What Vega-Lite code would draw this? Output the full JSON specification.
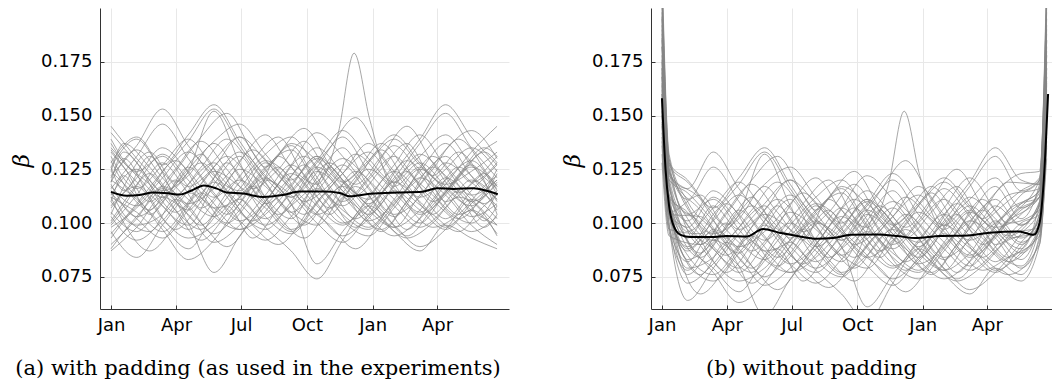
{
"$schema": "https://vega.github.io/schema/vega-lite/v6.json",
"padding": {"left": 10, "top": 8, "right": 0, "bottom": 0},
"bounds": "flush",
"spacing": 142,
"config": {
  "view": {"stroke": null},
  "axis": {"labelFont": "DejaVu Sans", "labelFontSize": 18, "labelColor": "#000", "domainColor": "#333", "domainWidth": 1, "tickColor": "#333", "tickSize": -4, "gridColor": "#e8e8e8", "gridWidth": 1}
},
"datasets": {
"a": [
{"s":1,"x":0,"y":0.113},{"s":1,"x":36,"y":0.125},{"s":1,"x":72,"y":0.108},{"s":1,"x":108,"y":0.099},{"s":1,"x":144,"y":0.118},{"s":1,"x":180,"y":0.131},{"s":1,"x":216,"y":0.112},{"s":1,"x":252,"y":0.102},{"s":1,"x":288,"y":0.121},{"s":1,"x":324,"y":0.135},{"s":1,"x":360,"y":0.117},{"s":1,"x":396,"y":0.104},{"s":1,"x":432,"y":0.112},{"s":1,"x":468,"y":0.128},{"s":1,"x":504,"y":0.119},{"s":1,"x":540,"y":0.108},
{"s":2,"x":0,"y":0.098},{"s":2,"x":36,"y":0.107},{"s":2,"x":72,"y":0.121},{"s":2,"x":108,"y":0.133},{"s":2,"x":144,"y":0.120},{"s":2,"x":180,"y":0.105},{"s":2,"x":216,"y":0.097},{"s":2,"x":252,"y":0.110},{"s":2,"x":288,"y":0.126},{"s":2,"x":324,"y":0.115},{"s":2,"x":360,"y":0.101},{"s":2,"x":396,"y":0.109},{"s":2,"x":432,"y":0.124},{"s":2,"x":468,"y":0.137},{"s":2,"x":504,"y":0.122},{"s":2,"x":540,"y":0.111},
{"s":3,"x":0,"y":0.128},{"s":3,"x":36,"y":0.140},{"s":3,"x":72,"y":0.124},{"s":3,"x":108,"y":0.111},{"s":3,"x":144,"y":0.103},{"s":3,"x":180,"y":0.116},{"s":3,"x":216,"y":0.129},{"s":3,"x":252,"y":0.121},{"s":3,"x":288,"y":0.108},{"s":3,"x":324,"y":0.099},{"s":3,"x":360,"y":0.112},{"s":3,"x":396,"y":0.127},{"s":3,"x":432,"y":0.141},{"s":3,"x":468,"y":0.126},{"s":3,"x":504,"y":0.113},{"s":3,"x":540,"y":0.120},
{"s":4,"x":0,"y":0.105},{"s":4,"x":36,"y":0.096},{"s":4,"x":72,"y":0.110},{"s":4,"x":108,"y":0.124},{"s":4,"x":144,"y":0.152},{"s":4,"x":180,"y":0.128},{"s":4,"x":216,"y":0.109},{"s":4,"x":252,"y":0.118},{"s":4,"x":288,"y":0.131},{"s":4,"x":324,"y":0.120},{"s":4,"x":360,"y":0.106},{"s":4,"x":396,"y":0.098},{"s":4,"x":432,"y":0.113},{"s":4,"x":468,"y":0.125},{"s":4,"x":504,"y":0.135},{"s":4,"x":540,"y":0.124},
{"s":5,"x":0,"y":0.120},{"s":5,"x":36,"y":0.111},{"s":5,"x":72,"y":0.099},{"s":5,"x":108,"y":0.088},{"s":5,"x":144,"y":0.104},{"s":5,"x":180,"y":0.119},{"s":5,"x":216,"y":0.132},{"s":5,"x":252,"y":0.140},{"s":5,"x":288,"y":0.125},{"s":5,"x":324,"y":0.110},{"s":5,"x":360,"y":0.121},{"s":5,"x":396,"y":0.136},{"s":5,"x":432,"y":0.123},{"s":5,"x":468,"y":0.107},{"s":5,"x":504,"y":0.100},{"s":5,"x":540,"y":0.114},
{"s":6,"x":0,"y":0.142},{"s":6,"x":36,"y":0.128},{"s":6,"x":72,"y":0.115},{"s":6,"x":108,"y":0.122},{"s":6,"x":144,"y":0.137},{"s":6,"x":180,"y":0.121},{"s":6,"x":216,"y":0.103},{"s":6,"x":252,"y":0.095},{"s":6,"x":288,"y":0.109},{"s":6,"x":324,"y":0.123},{"s":6,"x":360,"y":0.133},{"s":6,"x":396,"y":0.118},{"s":6,"x":432,"y":0.104},{"s":6,"x":468,"y":0.113},{"s":6,"x":504,"y":0.129},{"s":6,"x":540,"y":0.138},
{"s":7,"x":0,"y":0.090},{"s":7,"x":36,"y":0.102},{"s":7,"x":72,"y":0.117},{"s":7,"x":108,"y":0.108},{"s":7,"x":144,"y":0.095},{"s":7,"x":180,"y":0.106},{"s":7,"x":216,"y":0.120},{"s":7,"x":252,"y":0.113},{"s":7,"x":288,"y":0.100},{"s":7,"x":324,"y":0.091},{"s":7,"x":360,"y":0.104},{"s":7,"x":396,"y":0.119},{"s":7,"x":432,"y":0.110},{"s":7,"x":468,"y":0.098},{"s":7,"x":504,"y":0.106},{"s":7,"x":540,"y":0.095},
{"s":8,"x":0,"y":0.116},{"s":8,"x":36,"y":0.131},{"s":8,"x":72,"y":0.146},{"s":8,"x":108,"y":0.130},{"s":8,"x":144,"y":0.114},{"s":8,"x":180,"y":0.101},{"s":8,"x":216,"y":0.110},{"s":8,"x":252,"y":0.127},{"s":8,"x":288,"y":0.142},{"s":8,"x":324,"y":0.131},{"s":8,"x":360,"y":0.116},{"s":8,"x":396,"y":0.103},{"s":8,"x":432,"y":0.118},{"s":8,"x":468,"y":0.134},{"s":8,"x":504,"y":0.143},{"s":8,"x":540,"y":0.130},
{"s":9,"x":0,"y":0.110},{"s":9,"x":36,"y":0.099},{"s":9,"x":72,"y":0.104},{"s":9,"x":108,"y":0.118},{"s":9,"x":144,"y":0.128},{"s":9,"x":180,"y":0.113},{"s":9,"x":216,"y":0.124},{"s":9,"x":252,"y":0.136},{"s":9,"x":288,"y":0.119},{"s":9,"x":324,"y":0.104},{"s":9,"x":360,"y":0.097},{"s":9,"x":396,"y":0.111},{"s":9,"x":432,"y":0.125},{"s":9,"x":468,"y":0.115},{"s":9,"x":504,"y":0.103},{"s":9,"x":540,"y":0.109},
{"s":10,"x":0,"y":0.133},{"s":10,"x":36,"y":0.119},{"s":10,"x":72,"y":0.108},{"s":10,"x":108,"y":0.097},{"s":10,"x":144,"y":0.110},{"s":10,"x":180,"y":0.125},{"s":10,"x":216,"y":0.117},{"s":10,"x":252,"y":0.105},{"s":10,"x":288,"y":0.099},{"s":10,"x":324,"y":0.114},{"s":10,"x":360,"y":0.128},{"s":10,"x":396,"y":0.139},{"s":10,"x":432,"y":0.127},{"s":10,"x":468,"y":0.118},{"s":10,"x":504,"y":0.124},{"s":10,"x":540,"y":0.133},
{"s":11,"x":0,"y":0.101},{"s":11,"x":36,"y":0.118},{"s":11,"x":72,"y":0.132},{"s":11,"x":108,"y":0.120},{"s":11,"x":144,"y":0.107},{"s":11,"x":180,"y":0.112},{"s":11,"x":216,"y":0.126},{"s":11,"x":252,"y":0.134},{"s":11,"x":288,"y":0.118},{"s":11,"x":324,"y":0.108},{"s":11,"x":360,"y":0.120},{"s":11,"x":396,"y":0.131},{"s":11,"x":432,"y":0.117},{"s":11,"x":468,"y":0.105},{"s":11,"x":504,"y":0.096},{"s":11,"x":540,"y":0.103},
{"s":12,"x":0,"y":0.124},{"s":12,"x":36,"y":0.112},{"s":12,"x":72,"y":0.097},{"s":12,"x":108,"y":0.083},{"s":12,"x":144,"y":0.092},{"s":12,"x":180,"y":0.109},{"s":12,"x":216,"y":0.121},{"s":12,"x":252,"y":0.112},{"s":12,"x":288,"y":0.126},{"s":12,"x":324,"y":0.140},{"s":12,"x":360,"y":0.124},{"s":12,"x":396,"y":0.111},{"s":12,"x":432,"y":0.100},{"s":12,"x":468,"y":0.114},{"s":12,"x":504,"y":0.126},{"s":12,"x":540,"y":0.117},
{"s":13,"x":0,"y":0.095},{"s":13,"x":36,"y":0.109},{"s":13,"x":72,"y":0.124},{"s":13,"x":108,"y":0.138},{"s":13,"x":144,"y":0.153},{"s":13,"x":180,"y":0.136},{"s":13,"x":216,"y":0.119},{"s":13,"x":252,"y":0.105},{"s":13,"x":288,"y":0.115},{"s":13,"x":324,"y":0.127},{"s":13,"x":360,"y":0.113},{"s":13,"x":396,"y":0.098},{"s":13,"x":432,"y":0.106},{"s":13,"x":468,"y":0.121},{"s":13,"x":504,"y":0.111},{"s":13,"x":540,"y":0.099},
{"s":14,"x":0,"y":0.137},{"s":14,"x":36,"y":0.124},{"s":14,"x":72,"y":0.131},{"s":14,"x":108,"y":0.117},{"s":14,"x":144,"y":0.103},{"s":14,"x":180,"y":0.097},{"s":14,"x":216,"y":0.108},{"s":14,"x":252,"y":0.122},{"s":14,"x":288,"y":0.135},{"s":14,"x":324,"y":0.123},{"s":14,"x":360,"y":0.109},{"s":14,"x":396,"y":0.121},{"s":14,"x":432,"y":0.137},{"s":14,"x":468,"y":0.151},{"s":14,"x":504,"y":0.135},{"s":14,"x":540,"y":0.121},
{"s":15,"x":0,"y":0.114},{"s":15,"x":36,"y":0.102},{"s":15,"x":72,"y":0.093},{"s":15,"x":108,"y":0.106},{"s":15,"x":144,"y":0.121},{"s":15,"x":180,"y":0.133},{"s":15,"x":216,"y":0.122},{"s":15,"x":252,"y":0.109},{"s":15,"x":288,"y":0.081},{"s":15,"x":324,"y":0.096},{"s":15,"x":360,"y":0.111},{"s":15,"x":396,"y":0.124},{"s":15,"x":432,"y":0.114},{"s":15,"x":468,"y":0.102},{"s":15,"x":504,"y":0.115},{"s":15,"x":540,"y":0.127},
{"s":16,"x":0,"y":0.119},{"s":16,"x":36,"y":0.134},{"s":16,"x":72,"y":0.121},{"s":16,"x":108,"y":0.109},{"s":16,"x":144,"y":0.116},{"s":16,"x":180,"y":0.129},{"s":16,"x":216,"y":0.141},{"s":16,"x":252,"y":0.126},{"s":16,"x":288,"y":0.118},{"s":16,"x":318,"y":0.142},{"s":16,"x":340,"y":0.179},{"s":16,"x":362,"y":0.148},{"s":16,"x":396,"y":0.117},{"s":16,"x":432,"y":0.126},{"s":16,"x":468,"y":0.110},{"s":16,"x":504,"y":0.118},{"s":16,"x":540,"y":0.131},
{"s":17,"x":0,"y":0.087},{"s":17,"x":36,"y":0.098},{"s":17,"x":72,"y":0.112},{"s":17,"x":108,"y":0.104},{"s":17,"x":144,"y":0.091},{"s":17,"x":180,"y":0.099},{"s":17,"x":216,"y":0.113},{"s":17,"x":252,"y":0.127},{"s":17,"x":288,"y":0.115},{"s":17,"x":324,"y":0.101},{"s":17,"x":360,"y":0.094},{"s":17,"x":396,"y":0.107},{"s":17,"x":432,"y":0.121},{"s":17,"x":468,"y":0.113},{"s":17,"x":504,"y":0.099},{"s":17,"x":540,"y":0.090},
{"s":18,"x":0,"y":0.126},{"s":18,"x":36,"y":0.139},{"s":18,"x":72,"y":0.127},{"s":18,"x":108,"y":0.141},{"s":18,"x":144,"y":0.155},{"s":18,"x":180,"y":0.138},{"s":18,"x":216,"y":0.121},{"s":18,"x":252,"y":0.112},{"s":18,"x":288,"y":0.124},{"s":18,"x":324,"y":0.115},{"s":18,"x":360,"y":0.104},{"s":18,"x":396,"y":0.117},{"s":18,"x":432,"y":0.132},{"s":18,"x":468,"y":0.122},{"s":18,"x":504,"y":0.110},{"s":18,"x":540,"y":0.118},
{"s":19,"x":0,"y":0.108},{"s":19,"x":36,"y":0.117},{"s":19,"x":72,"y":0.102},{"s":19,"x":108,"y":0.093},{"s":19,"x":144,"y":0.099},{"s":19,"x":180,"y":0.111},{"s":19,"x":216,"y":0.098},{"s":19,"x":252,"y":0.087},{"s":19,"x":288,"y":0.074},{"s":19,"x":324,"y":0.092},{"s":19,"x":360,"y":0.108},{"s":19,"x":396,"y":0.099},{"s":19,"x":432,"y":0.089},{"s":19,"x":468,"y":0.097},{"s":19,"x":504,"y":0.111},{"s":19,"x":540,"y":0.102},
{"s":20,"x":0,"y":0.131},{"s":20,"x":36,"y":0.116},{"s":20,"x":72,"y":0.127},{"s":20,"x":108,"y":0.139},{"s":20,"x":144,"y":0.125},{"s":20,"x":180,"y":0.112},{"s":20,"x":216,"y":0.102},{"s":20,"x":252,"y":0.115},{"s":20,"x":288,"y":0.129},{"s":20,"x":324,"y":0.143},{"s":20,"x":360,"y":0.130},{"s":20,"x":396,"y":0.119},{"s":20,"x":432,"y":0.128},{"s":20,"x":468,"y":0.117},{"s":20,"x":504,"y":0.106},{"s":20,"x":540,"y":0.099},
{"s":21,"x":0,"y":0.099},{"s":21,"x":36,"y":0.113},{"s":21,"x":72,"y":0.128},{"s":21,"x":108,"y":0.117},{"s":21,"x":144,"y":0.126},{"s":21,"x":180,"y":0.140},{"s":21,"x":216,"y":0.129},{"s":21,"x":252,"y":0.116},{"s":21,"x":288,"y":0.104},{"s":21,"x":324,"y":0.112},{"s":21,"x":360,"y":0.125},{"s":21,"x":396,"y":0.116},{"s":21,"x":432,"y":0.105},{"s":21,"x":468,"y":0.118},{"s":21,"x":504,"y":0.133},{"s":21,"x":540,"y":0.145},
{"s":22,"x":0,"y":0.117},{"s":22,"x":36,"y":0.108},{"s":22,"x":72,"y":0.116},{"s":22,"x":108,"y":0.100},{"s":22,"x":144,"y":0.077},{"s":22,"x":180,"y":0.094},{"s":22,"x":216,"y":0.110},{"s":22,"x":252,"y":0.123},{"s":22,"x":288,"y":0.112},{"s":22,"x":324,"y":0.100},{"s":22,"x":360,"y":0.108},{"s":22,"x":396,"y":0.120},{"s":22,"x":432,"y":0.131},{"s":22,"x":468,"y":0.141},{"s":22,"x":504,"y":0.127},{"s":22,"x":540,"y":0.116},
{"s":23,"x":0,"y":0.145},{"s":23,"x":36,"y":0.130},{"s":23,"x":72,"y":0.117},{"s":23,"x":108,"y":0.106},{"s":23,"x":144,"y":0.119},{"s":23,"x":180,"y":0.109},{"s":23,"x":216,"y":0.099},{"s":23,"x":252,"y":0.108},{"s":23,"x":288,"y":0.119},{"s":23,"x":324,"y":0.130},{"s":23,"x":360,"y":0.120},{"s":23,"x":396,"y":0.108},{"s":23,"x":432,"y":0.098},{"s":23,"x":468,"y":0.107},{"s":23,"x":504,"y":0.120},{"s":23,"x":540,"y":0.111},
{"s":24,"x":0,"y":0.103},{"s":24,"x":36,"y":0.092},{"s":24,"x":72,"y":0.101},{"s":24,"x":108,"y":0.114},{"s":24,"x":144,"y":0.107},{"s":24,"x":180,"y":0.097},{"s":24,"x":216,"y":0.104},{"s":24,"x":252,"y":0.117},{"s":24,"x":288,"y":0.131},{"s":24,"x":324,"y":0.119},{"s":24,"x":360,"y":0.129},{"s":24,"x":396,"y":0.141},{"s":24,"x":432,"y":0.128},{"s":24,"x":468,"y":0.116},{"s":24,"x":504,"y":0.108},{"s":24,"x":540,"y":0.123},
{"s":25,"x":0,"y":0.122},{"s":25,"x":36,"y":0.136},{"s":25,"x":72,"y":0.153},{"s":25,"x":108,"y":0.136},{"s":25,"x":144,"y":0.122},{"s":25,"x":180,"y":0.115},{"s":25,"x":216,"y":0.128},{"s":25,"x":252,"y":0.117},{"s":25,"x":288,"y":0.105},{"s":25,"x":324,"y":0.094},{"s":25,"x":360,"y":0.103},{"s":25,"x":396,"y":0.115},{"s":25,"x":432,"y":0.106},{"s":25,"x":468,"y":0.097},{"s":25,"x":504,"y":0.109},{"s":25,"x":540,"y":0.120},
{"s":26,"x":0,"y":0.112},{"s":26,"x":36,"y":0.105},{"s":26,"x":72,"y":0.096},{"s":26,"x":108,"y":0.109},{"s":26,"x":144,"y":0.124},{"s":26,"x":180,"y":0.117},{"s":26,"x":216,"y":0.107},{"s":26,"x":252,"y":0.096},{"s":26,"x":288,"y":0.110},{"s":26,"x":324,"y":0.123},{"s":26,"x":360,"y":0.137},{"s":26,"x":396,"y":0.124},{"s":26,"x":432,"y":0.112},{"s":26,"x":468,"y":0.120},{"s":26,"x":504,"y":0.129},{"s":26,"x":540,"y":0.113},
{"s":27,"x":0,"y":0.096},{"s":27,"x":36,"y":0.084},{"s":27,"x":72,"y":0.099},{"s":27,"x":108,"y":0.115},{"s":27,"x":144,"y":0.129},{"s":27,"x":180,"y":0.140},{"s":27,"x":216,"y":0.126},{"s":27,"x":252,"y":0.137},{"s":27,"x":288,"y":0.129},{"s":27,"x":324,"y":0.117},{"s":27,"x":360,"y":0.103},{"s":27,"x":396,"y":0.094},{"s":27,"x":432,"y":0.102},{"s":27,"x":468,"y":0.115},{"s":27,"x":504,"y":0.127},{"s":27,"x":540,"y":0.104},
{"s":28,"x":0,"y":0.135},{"s":28,"x":36,"y":0.122},{"s":28,"x":72,"y":0.112},{"s":28,"x":108,"y":0.126},{"s":28,"x":144,"y":0.113},{"s":28,"x":180,"y":0.101},{"s":28,"x":216,"y":0.092},{"s":28,"x":252,"y":0.103},{"s":28,"x":288,"y":0.116},{"s":28,"x":324,"y":0.106},{"s":28,"x":360,"y":0.098},{"s":28,"x":396,"y":0.110},{"s":28,"x":432,"y":0.121},{"s":28,"x":468,"y":0.131},{"s":28,"x":504,"y":0.119},{"s":28,"x":540,"y":0.128},
{"s":29,"x":0,"y":0.107},{"s":29,"x":36,"y":0.121},{"s":29,"x":72,"y":0.135},{"s":29,"x":108,"y":0.124},{"s":29,"x":144,"y":0.112},{"s":29,"x":180,"y":0.120},{"s":29,"x":216,"y":0.109},{"s":29,"x":252,"y":0.097},{"s":29,"x":288,"y":0.105},{"s":29,"x":324,"y":0.117},{"s":29,"x":360,"y":0.108},{"s":29,"x":396,"y":0.096},{"s":29,"x":432,"y":0.087},{"s":29,"x":468,"y":0.099},{"s":29,"x":504,"y":0.093},{"s":29,"x":540,"y":0.088},
{"s":30,"x":0,"y":0.118},{"s":30,"x":36,"y":0.103},{"s":30,"x":72,"y":0.111},{"s":30,"x":108,"y":0.125},{"s":30,"x":144,"y":0.138},{"s":30,"x":180,"y":0.146},{"s":30,"x":216,"y":0.132},{"s":30,"x":252,"y":0.120},{"s":30,"x":288,"y":0.130},{"s":30,"x":324,"y":0.119},{"s":30,"x":360,"y":0.111},{"s":30,"x":396,"y":0.124},{"s":30,"x":432,"y":0.139},{"s":30,"x":468,"y":0.155},{"s":30,"x":504,"y":0.140},{"s":30,"x":540,"y":0.127},
{"s":31,"x":0,"y":0.110},{"s":31,"x":18,"y":0.122},{"s":31,"x":54,"y":0.104},{"s":31,"x":90,"y":0.118},{"s":31,"x":126,"y":0.132},{"s":31,"x":162,"y":0.115},{"s":31,"x":198,"y":0.101},{"s":31,"x":234,"y":0.113},{"s":31,"x":270,"y":0.127},{"s":31,"x":306,"y":0.112},{"s":31,"x":342,"y":0.098},{"s":31,"x":378,"y":0.109},{"s":31,"x":414,"y":0.124},{"s":31,"x":450,"y":0.110},{"s":31,"x":486,"y":0.121},{"s":31,"x":522,"y":0.133},{"s":31,"x":540,"y":0.128},
{"s":32,"x":0,"y":0.126},{"s":32,"x":18,"y":0.115},{"s":32,"x":54,"y":0.131},{"s":32,"x":90,"y":0.112},{"s":32,"x":126,"y":0.099},{"s":32,"x":162,"y":0.114},{"s":32,"x":198,"y":0.129},{"s":32,"x":234,"y":0.140},{"s":32,"x":270,"y":0.122},{"s":32,"x":306,"y":0.107},{"s":32,"x":342,"y":0.119},{"s":32,"x":378,"y":0.134},{"s":32,"x":414,"y":0.118},{"s":32,"x":450,"y":0.104},{"s":32,"x":486,"y":0.115},{"s":32,"x":522,"y":0.101},{"s":32,"x":540,"y":0.108},
{"s":33,"x":0,"y":0.100},{"s":33,"x":18,"y":0.108},{"s":33,"x":54,"y":0.123},{"s":33,"x":90,"y":0.106},{"s":33,"x":126,"y":0.092},{"s":33,"x":162,"y":0.104},{"s":33,"x":198,"y":0.117},{"s":33,"x":234,"y":0.103},{"s":33,"x":270,"y":0.093},{"s":33,"x":306,"y":0.108},{"s":33,"x":342,"y":0.124},{"s":33,"x":378,"y":0.112},{"s":33,"x":414,"y":0.097},{"s":33,"x":450,"y":0.111},{"s":33,"x":486,"y":0.126},{"s":33,"x":522,"y":0.114},{"s":33,"x":540,"y":0.106},
{"s":34,"x":0,"y":0.121},{"s":34,"x":18,"y":0.130},{"s":34,"x":54,"y":0.112},{"s":34,"x":90,"y":0.097},{"s":34,"x":126,"y":0.110},{"s":34,"x":162,"y":0.128},{"s":34,"x":198,"y":0.116},{"s":34,"x":234,"y":0.125},{"s":34,"x":270,"y":0.138},{"s":34,"x":306,"y":0.121},{"s":34,"x":342,"y":0.106},{"s":34,"x":378,"y":0.097},{"s":34,"x":414,"y":0.110},{"s":34,"x":450,"y":0.126},{"s":34,"x":486,"y":0.113},{"s":34,"x":522,"y":0.098},{"s":34,"x":540,"y":0.104},
{"s":35,"x":0,"y":0.093},{"s":35,"x":18,"y":0.101},{"s":35,"x":54,"y":0.115},{"s":35,"x":90,"y":0.129},{"s":35,"x":126,"y":0.114},{"s":35,"x":162,"y":0.100},{"s":35,"x":198,"y":0.112},{"s":35,"x":234,"y":0.126},{"s":35,"x":270,"y":0.110},{"s":35,"x":306,"y":0.118},{"s":35,"x":342,"y":0.132},{"s":35,"x":378,"y":0.121},{"s":35,"x":414,"y":0.108},{"s":35,"x":450,"y":0.098},{"s":35,"x":486,"y":0.104},{"s":35,"x":522,"y":0.117},{"s":35,"x":540,"y":0.122},
{"s":36,"x":0,"y":0.134},{"s":36,"x":18,"y":0.126},{"s":36,"x":54,"y":0.110},{"s":36,"x":90,"y":0.124},{"s":36,"x":126,"y":0.140},{"s":36,"x":162,"y":0.151},{"s":36,"x":198,"y":0.133},{"s":36,"x":234,"y":0.117},{"s":36,"x":270,"y":0.104},{"s":36,"x":306,"y":0.115},{"s":36,"x":342,"y":0.108},{"s":36,"x":378,"y":0.096},{"s":36,"x":414,"y":0.110},{"s":36,"x":450,"y":0.125},{"s":36,"x":486,"y":0.139},{"s":36,"x":522,"y":0.125},{"s":36,"x":540,"y":0.115},
{"s":37,"x":0,"y":0.115},{"s":37,"x":18,"y":0.104},{"s":37,"x":54,"y":0.096},{"s":37,"x":90,"y":0.111},{"s":37,"x":126,"y":0.100},{"s":37,"x":162,"y":0.089},{"s":37,"x":198,"y":0.102},{"s":37,"x":234,"y":0.118},{"s":37,"x":270,"y":0.131},{"s":37,"x":306,"y":0.117},{"s":37,"x":342,"y":0.102},{"s":37,"x":378,"y":0.114},{"s":37,"x":414,"y":0.129},{"s":37,"x":450,"y":0.117},{"s":37,"x":486,"y":0.104},{"s":37,"x":522,"y":0.112},{"s":37,"x":540,"y":0.119},
{"s":38,"x":0,"y":0.104},{"s":38,"x":18,"y":0.117},{"s":38,"x":54,"y":0.133},{"s":38,"x":90,"y":0.119},{"s":38,"x":126,"y":0.128},{"s":38,"x":162,"y":0.114},{"s":38,"x":198,"y":0.099},{"s":38,"x":234,"y":0.090},{"s":38,"x":270,"y":0.103},{"s":38,"x":306,"y":0.126},{"s":38,"x":342,"y":0.113},{"s":38,"x":378,"y":0.125},{"s":38,"x":414,"y":0.137},{"s":38,"x":450,"y":0.122},{"s":38,"x":486,"y":0.133},{"s":38,"x":522,"y":0.119},{"s":38,"x":540,"y":0.110},
{"s":39,"x":0,"y":0.129},{"s":39,"x":18,"y":0.118},{"s":39,"x":54,"y":0.106},{"s":39,"x":90,"y":0.120},{"s":39,"x":126,"y":0.107},{"s":39,"x":162,"y":0.119},{"s":39,"x":198,"y":0.134},{"s":39,"x":234,"y":0.122},{"s":39,"x":270,"y":0.109},{"s":39,"x":306,"y":0.099},{"s":39,"x":342,"y":0.088},{"s":39,"x":378,"y":0.101},{"s":39,"x":414,"y":0.116},{"s":39,"x":450,"y":0.131},{"s":39,"x":486,"y":0.120},{"s":39,"x":522,"y":0.109},{"s":39,"x":540,"y":0.115},
{"s":40,"x":0,"y":0.119},{"s":40,"x":18,"y":0.133},{"s":40,"x":54,"y":0.120},{"s":40,"x":90,"y":0.106},{"s":40,"x":126,"y":0.097},{"s":40,"x":162,"y":0.108},{"s":40,"x":198,"y":0.093},{"s":40,"x":234,"y":0.107},{"s":40,"x":270,"y":0.121},{"s":40,"x":306,"y":0.135},{"s":40,"x":342,"y":0.149},{"s":40,"x":378,"y":0.131},{"s":40,"x":414,"y":0.114},{"s":40,"x":450,"y":0.104},{"s":40,"x":486,"y":0.096},{"s":40,"x":522,"y":0.108},{"s":40,"x":540,"y":0.113},
{"s":41,"x":0,"y":0.088},{"s":41,"x":18,"y":0.096},{"s":41,"x":54,"y":0.110},{"s":41,"x":90,"y":0.125},{"s":41,"x":126,"y":0.138},{"s":41,"x":162,"y":0.125},{"s":41,"x":198,"y":0.112},{"s":41,"x":234,"y":0.131},{"s":41,"x":270,"y":0.118},{"s":41,"x":306,"y":0.104},{"s":41,"x":342,"y":0.117},{"s":41,"x":378,"y":0.106},{"s":41,"x":414,"y":0.094},{"s":41,"x":450,"y":0.107},{"s":41,"x":486,"y":0.122},{"s":41,"x":522,"y":0.135},{"s":41,"x":540,"y":0.131},
{"s":42,"x":0,"y":0.139},{"s":42,"x":18,"y":0.129},{"s":42,"x":54,"y":0.118},{"s":42,"x":90,"y":0.105},{"s":42,"x":126,"y":0.118},{"s":42,"x":162,"y":0.131},{"s":42,"x":198,"y":0.119},{"s":42,"x":234,"y":0.104},{"s":42,"x":270,"y":0.116},{"s":42,"x":306,"y":0.128},{"s":42,"x":342,"y":0.118},{"s":42,"x":378,"y":0.131},{"s":42,"x":414,"y":0.145},{"s":42,"x":450,"y":0.128},{"s":42,"x":486,"y":0.114},{"s":42,"x":522,"y":0.123},{"s":42,"x":540,"y":0.117},
{"s":43,"x":0,"y":0.112},{"s":43,"x":18,"y":0.100},{"s":43,"x":54,"y":0.087},{"s":43,"x":90,"y":0.099},{"s":43,"x":126,"y":0.114},{"s":43,"x":162,"y":0.104},{"s":43,"x":198,"y":0.118},{"s":43,"x":234,"y":0.132},{"s":43,"x":270,"y":0.144},{"s":43,"x":306,"y":0.127},{"s":43,"x":342,"y":0.114},{"s":43,"x":378,"y":0.102},{"s":43,"x":414,"y":0.093},{"s":43,"x":450,"y":0.100},{"s":43,"x":486,"y":0.112},{"s":43,"x":522,"y":0.104},{"s":43,"x":540,"y":0.094},
{"s":44,"x":0,"y":0.124},{"s":44,"x":18,"y":0.137},{"s":44,"x":54,"y":0.126},{"s":44,"x":90,"y":0.113},{"s":44,"x":126,"y":0.126},{"s":44,"x":162,"y":0.139},{"s":44,"x":198,"y":0.126},{"s":44,"x":234,"y":0.111},{"s":44,"x":270,"y":0.099},{"s":44,"x":306,"y":0.113},{"s":44,"x":342,"y":0.123},{"s":44,"x":378,"y":0.137},{"s":44,"x":414,"y":0.124},{"s":44,"x":450,"y":0.113},{"s":44,"x":486,"y":0.102},{"s":44,"x":522,"y":0.114},{"s":44,"x":540,"y":0.125}
],
"b": [
{"s":1,"x":0,"y":0.172},{"s":1,"x":10,"y":0.112},{"s":1,"x":36,"y":0.105},{"s":1,"x":72,"y":0.088},{"s":1,"x":108,"y":0.079},{"s":1,"x":144,"y":0.098},{"s":1,"x":180,"y":0.111},{"s":1,"x":216,"y":0.092},{"s":1,"x":252,"y":0.082},{"s":1,"x":288,"y":0.101},{"s":1,"x":324,"y":0.115},{"s":1,"x":360,"y":0.097},{"s":1,"x":396,"y":0.084},{"s":1,"x":432,"y":0.092},{"s":1,"x":468,"y":0.108},{"s":1,"x":504,"y":0.099},{"s":1,"x":530,"y":0.108},{"s":1,"x":540,"y":0.165},
{"s":2,"x":0,"y":0.150},{"s":2,"x":10,"y":0.105},{"s":2,"x":36,"y":0.087},{"s":2,"x":72,"y":0.101},{"s":2,"x":108,"y":0.113},{"s":2,"x":144,"y":0.100},{"s":2,"x":180,"y":0.085},{"s":2,"x":216,"y":0.077},{"s":2,"x":252,"y":0.090},{"s":2,"x":288,"y":0.106},{"s":2,"x":324,"y":0.095},{"s":2,"x":360,"y":0.081},{"s":2,"x":396,"y":0.089},{"s":2,"x":432,"y":0.104},{"s":2,"x":468,"y":0.117},{"s":2,"x":504,"y":0.102},{"s":2,"x":530,"y":0.118},{"s":2,"x":540,"y":0.190},
{"s":3,"x":0,"y":0.205},{"s":3,"x":10,"y":0.128},{"s":3,"x":36,"y":0.120},{"s":3,"x":72,"y":0.104},{"s":3,"x":108,"y":0.091},{"s":3,"x":144,"y":0.083},{"s":3,"x":180,"y":0.096},{"s":3,"x":216,"y":0.109},{"s":3,"x":252,"y":0.101},{"s":3,"x":288,"y":0.088},{"s":3,"x":324,"y":0.079},{"s":3,"x":360,"y":0.092},{"s":3,"x":396,"y":0.107},{"s":3,"x":432,"y":0.121},{"s":3,"x":468,"y":0.106},{"s":3,"x":504,"y":0.093},{"s":3,"x":530,"y":0.102},{"s":3,"x":540,"y":0.158},
{"s":4,"x":0,"y":0.160},{"s":4,"x":10,"y":0.104},{"s":4,"x":36,"y":0.076},{"s":4,"x":72,"y":0.090},{"s":4,"x":108,"y":0.104},{"s":4,"x":144,"y":0.132},{"s":4,"x":180,"y":0.108},{"s":4,"x":216,"y":0.089},{"s":4,"x":252,"y":0.098},{"s":4,"x":288,"y":0.111},{"s":4,"x":324,"y":0.100},{"s":4,"x":360,"y":0.086},{"s":4,"x":396,"y":0.078},{"s":4,"x":432,"y":0.093},{"s":4,"x":468,"y":0.105},{"s":4,"x":504,"y":0.115},{"s":4,"x":530,"y":0.121},{"s":4,"x":540,"y":0.210},
{"s":5,"x":0,"y":0.185},{"s":5,"x":10,"y":0.118},{"s":5,"x":36,"y":0.091},{"s":5,"x":72,"y":0.079},{"s":5,"x":108,"y":0.068},{"s":5,"x":144,"y":0.084},{"s":5,"x":180,"y":0.099},{"s":5,"x":216,"y":0.112},{"s":5,"x":252,"y":0.120},{"s":5,"x":288,"y":0.105},{"s":5,"x":324,"y":0.090},{"s":5,"x":360,"y":0.101},{"s":5,"x":396,"y":0.116},{"s":5,"x":432,"y":0.103},{"s":5,"x":468,"y":0.087},{"s":5,"x":504,"y":0.080},{"s":5,"x":530,"y":0.098},{"s":5,"x":540,"y":0.148},
{"s":6,"x":0,"y":0.215},{"s":6,"x":10,"y":0.130},{"s":6,"x":36,"y":0.108},{"s":6,"x":72,"y":0.095},{"s":6,"x":108,"y":0.102},{"s":6,"x":144,"y":0.117},{"s":6,"x":180,"y":0.101},{"s":6,"x":216,"y":0.083},{"s":6,"x":252,"y":0.075},{"s":6,"x":288,"y":0.089},{"s":6,"x":324,"y":0.103},{"s":6,"x":360,"y":0.113},{"s":6,"x":396,"y":0.098},{"s":6,"x":432,"y":0.084},{"s":6,"x":468,"y":0.093},{"s":6,"x":504,"y":0.109},{"s":6,"x":530,"y":0.115},{"s":6,"x":540,"y":0.182},
{"s":7,"x":0,"y":0.138},{"s":7,"x":10,"y":0.098},{"s":7,"x":36,"y":0.082},{"s":7,"x":72,"y":0.097},{"s":7,"x":108,"y":0.088},{"s":7,"x":144,"y":0.075},{"s":7,"x":180,"y":0.086},{"s":7,"x":216,"y":0.100},{"s":7,"x":252,"y":0.093},{"s":7,"x":288,"y":0.080},{"s":7,"x":324,"y":0.071},{"s":7,"x":360,"y":0.084},{"s":7,"x":396,"y":0.099},{"s":7,"x":432,"y":0.090},{"s":7,"x":468,"y":0.078},{"s":7,"x":504,"y":0.086},{"s":7,"x":530,"y":0.096},{"s":7,"x":540,"y":0.135},
{"s":8,"x":0,"y":0.190},{"s":8,"x":10,"y":0.125},{"s":8,"x":36,"y":0.111},{"s":8,"x":72,"y":0.126},{"s":8,"x":108,"y":0.110},{"s":8,"x":144,"y":0.094},{"s":8,"x":180,"y":0.081},{"s":8,"x":216,"y":0.090},{"s":8,"x":252,"y":0.107},{"s":8,"x":288,"y":0.122},{"s":8,"x":324,"y":0.111},{"s":8,"x":360,"y":0.096},{"s":8,"x":396,"y":0.083},{"s":8,"x":432,"y":0.098},{"s":8,"x":468,"y":0.114},{"s":8,"x":504,"y":0.123},{"s":8,"x":530,"y":0.124},{"s":8,"x":540,"y":0.205},
{"s":9,"x":0,"y":0.165},{"s":9,"x":10,"y":0.106},{"s":9,"x":36,"y":0.079},{"s":9,"x":72,"y":0.084},{"s":9,"x":108,"y":0.098},{"s":9,"x":144,"y":0.108},{"s":9,"x":180,"y":0.093},{"s":9,"x":216,"y":0.104},{"s":9,"x":252,"y":0.116},{"s":9,"x":288,"y":0.099},{"s":9,"x":324,"y":0.084},{"s":9,"x":360,"y":0.077},{"s":9,"x":396,"y":0.091},{"s":9,"x":432,"y":0.105},{"s":9,"x":468,"y":0.095},{"s":9,"x":504,"y":0.083},{"s":9,"x":530,"y":0.100},{"s":9,"x":540,"y":0.152},
{"s":10,"x":0,"y":0.198},{"s":10,"x":10,"y":0.121},{"s":10,"x":36,"y":0.099},{"s":10,"x":72,"y":0.088},{"s":10,"x":108,"y":0.077},{"s":10,"x":144,"y":0.090},{"s":10,"x":180,"y":0.105},{"s":10,"x":216,"y":0.097},{"s":10,"x":252,"y":0.085},{"s":10,"x":288,"y":0.079},{"s":10,"x":324,"y":0.094},{"s":10,"x":360,"y":0.108},{"s":10,"x":396,"y":0.119},{"s":10,"x":432,"y":0.107},{"s":10,"x":468,"y":0.098},{"s":10,"x":504,"y":0.104},{"s":10,"x":530,"y":0.116},{"s":10,"x":540,"y":0.178},
{"s":11,"x":0,"y":0.147},{"s":11,"x":10,"y":0.109},{"s":11,"x":36,"y":0.098},{"s":11,"x":72,"y":0.112},{"s":11,"x":108,"y":0.100},{"s":11,"x":144,"y":0.087},{"s":11,"x":180,"y":0.092},{"s":11,"x":216,"y":0.106},{"s":11,"x":252,"y":0.114},{"s":11,"x":288,"y":0.098},{"s":11,"x":324,"y":0.088},{"s":11,"x":360,"y":0.100},{"s":11,"x":396,"y":0.111},{"s":11,"x":432,"y":0.097},{"s":11,"x":468,"y":0.085},{"s":11,"x":504,"y":0.076},{"s":11,"x":530,"y":0.094},{"s":11,"x":540,"y":0.140},
{"s":12,"x":0,"y":0.178},{"s":12,"x":10,"y":0.111},{"s":12,"x":36,"y":0.092},{"s":12,"x":72,"y":0.077},{"s":12,"x":108,"y":0.063},{"s":12,"x":144,"y":0.072},{"s":12,"x":180,"y":0.089},{"s":12,"x":216,"y":0.101},{"s":12,"x":252,"y":0.092},{"s":12,"x":288,"y":0.106},{"s":12,"x":324,"y":0.120},{"s":12,"x":360,"y":0.104},{"s":12,"x":396,"y":0.091},{"s":12,"x":432,"y":0.080},{"s":12,"x":468,"y":0.094},{"s":12,"x":504,"y":0.106},{"s":12,"x":530,"y":0.112},{"s":12,"x":540,"y":0.170},
{"s":13,"x":0,"y":0.142},{"s":13,"x":10,"y":0.103},{"s":13,"x":36,"y":0.089},{"s":13,"x":72,"y":0.104},{"s":13,"x":108,"y":0.118},{"s":13,"x":144,"y":0.133},{"s":13,"x":180,"y":0.116},{"s":13,"x":216,"y":0.099},{"s":13,"x":252,"y":0.085},{"s":13,"x":288,"y":0.095},{"s":13,"x":324,"y":0.107},{"s":13,"x":360,"y":0.093},{"s":13,"x":396,"y":0.078},{"s":13,"x":432,"y":0.086},{"s":13,"x":468,"y":0.101},{"s":13,"x":504,"y":0.091},{"s":13,"x":530,"y":0.100},{"s":13,"x":540,"y":0.145},
{"s":14,"x":0,"y":0.210},{"s":14,"x":10,"y":0.126},{"s":14,"x":36,"y":0.104},{"s":14,"x":72,"y":0.111},{"s":14,"x":108,"y":0.097},{"s":14,"x":144,"y":0.083},{"s":14,"x":180,"y":0.077},{"s":14,"x":216,"y":0.088},{"s":14,"x":252,"y":0.102},{"s":14,"x":288,"y":0.115},{"s":14,"x":324,"y":0.103},{"s":14,"x":360,"y":0.089},{"s":14,"x":396,"y":0.101},{"s":14,"x":432,"y":0.117},{"s":14,"x":468,"y":0.131},{"s":14,"x":504,"y":0.115},{"s":14,"x":530,"y":0.120},{"s":14,"x":540,"y":0.198},
{"s":15,"x":0,"y":0.168},{"s":15,"x":10,"y":0.107},{"s":15,"x":36,"y":0.082},{"s":15,"x":72,"y":0.073},{"s":15,"x":108,"y":0.086},{"s":15,"x":144,"y":0.101},{"s":15,"x":180,"y":0.113},{"s":15,"x":216,"y":0.102},{"s":15,"x":252,"y":0.089},{"s":15,"x":288,"y":0.061},{"s":15,"x":324,"y":0.076},{"s":15,"x":360,"y":0.091},{"s":15,"x":396,"y":0.104},{"s":15,"x":432,"y":0.094},{"s":15,"x":468,"y":0.082},{"s":15,"x":504,"y":0.095},{"s":15,"x":530,"y":0.106},{"s":15,"x":540,"y":0.172},
{"s":16,"x":0,"y":0.176},{"s":16,"x":10,"y":0.120},{"s":16,"x":36,"y":0.114},{"s":16,"x":72,"y":0.101},{"s":16,"x":108,"y":0.089},{"s":16,"x":144,"y":0.096},{"s":16,"x":180,"y":0.109},{"s":16,"x":216,"y":0.121},{"s":16,"x":252,"y":0.106},{"s":16,"x":288,"y":0.098},{"s":16,"x":318,"y":0.118},{"s":16,"x":340,"y":0.152},{"s":16,"x":362,"y":0.122},{"s":16,"x":396,"y":0.097},{"s":16,"x":432,"y":0.106},{"s":16,"x":468,"y":0.090},{"s":16,"x":504,"y":0.098},{"s":16,"x":530,"y":0.108},{"s":16,"x":540,"y":0.175},
{"s":17,"x":0,"y":0.132},{"s":17,"x":10,"y":0.096},{"s":17,"x":36,"y":0.078},{"s":17,"x":72,"y":0.092},{"s":17,"x":108,"y":0.084},{"s":17,"x":144,"y":0.071},{"s":17,"x":180,"y":0.079},{"s":17,"x":216,"y":0.093},{"s":17,"x":252,"y":0.107},{"s":17,"x":288,"y":0.095},{"s":17,"x":324,"y":0.081},{"s":17,"x":360,"y":0.074},{"s":17,"x":396,"y":0.087},{"s":17,"x":432,"y":0.101},{"s":17,"x":468,"y":0.093},{"s":17,"x":504,"y":0.079},{"s":17,"x":530,"y":0.092},{"s":17,"x":540,"y":0.130},
{"s":18,"x":0,"y":0.195},{"s":18,"x":10,"y":0.127},{"s":18,"x":36,"y":0.119},{"s":18,"x":72,"y":0.107},{"s":18,"x":108,"y":0.121},{"s":18,"x":144,"y":0.135},{"s":18,"x":180,"y":0.118},{"s":18,"x":216,"y":0.101},{"s":18,"x":252,"y":0.092},{"s":18,"x":288,"y":0.104},{"s":18,"x":324,"y":0.095},{"s":18,"x":360,"y":0.084},{"s":18,"x":396,"y":0.097},{"s":18,"x":432,"y":0.112},{"s":18,"x":468,"y":0.102},{"s":18,"x":504,"y":0.090},{"s":18,"x":530,"y":0.104},{"s":18,"x":540,"y":0.162},
{"s":19,"x":0,"y":0.155},{"s":19,"x":10,"y":0.104},{"s":19,"x":36,"y":0.097},{"s":19,"x":72,"y":0.082},{"s":19,"x":108,"y":0.073},{"s":19,"x":144,"y":0.079},{"s":19,"x":180,"y":0.091},{"s":19,"x":216,"y":0.078},{"s":19,"x":252,"y":0.067},{"s":19,"x":288,"y":0.054},{"s":19,"x":324,"y":0.072},{"s":19,"x":360,"y":0.088},{"s":19,"x":396,"y":0.079},{"s":19,"x":432,"y":0.069},{"s":19,"x":468,"y":0.077},{"s":19,"x":504,"y":0.091},{"s":19,"x":530,"y":0.102},{"s":19,"x":540,"y":0.156},
{"s":20,"x":0,"y":0.188},{"s":20,"x":10,"y":0.118},{"s":20,"x":36,"y":0.096},{"s":20,"x":72,"y":0.107},{"s":20,"x":108,"y":0.119},{"s":20,"x":144,"y":0.105},{"s":20,"x":180,"y":0.092},{"s":20,"x":216,"y":0.082},{"s":20,"x":252,"y":0.095},{"s":20,"x":288,"y":0.109},{"s":20,"x":324,"y":0.123},{"s":20,"x":360,"y":0.110},{"s":20,"x":396,"y":0.099},{"s":20,"x":432,"y":0.108},{"s":20,"x":468,"y":0.097},{"s":20,"x":504,"y":0.086},{"s":20,"x":530,"y":0.097},{"s":20,"x":540,"y":0.150},
{"s":21,"x":0,"y":0.145},{"s":21,"x":10,"y":0.108},{"s":21,"x":36,"y":0.093},{"s":21,"x":72,"y":0.108},{"s":21,"x":108,"y":0.097},{"s":21,"x":144,"y":0.106},{"s":21,"x":180,"y":0.120},{"s":21,"x":216,"y":0.109},{"s":21,"x":252,"y":0.096},{"s":21,"x":288,"y":0.084},{"s":21,"x":324,"y":0.092},{"s":21,"x":360,"y":0.105},{"s":21,"x":396,"y":0.096},{"s":21,"x":432,"y":0.085},{"s":21,"x":468,"y":0.098},{"s":21,"x":504,"y":0.113},{"s":21,"x":530,"y":0.120},{"s":21,"x":540,"y":0.215},
{"s":22,"x":0,"y":0.170},{"s":22,"x":10,"y":0.110},{"s":22,"x":36,"y":0.088},{"s":22,"x":72,"y":0.096},{"s":22,"x":108,"y":0.080},{"s":22,"x":144,"y":0.057},{"s":22,"x":180,"y":0.074},{"s":22,"x":216,"y":0.090},{"s":22,"x":252,"y":0.103},{"s":22,"x":288,"y":0.092},{"s":22,"x":324,"y":0.080},{"s":22,"x":360,"y":0.088},{"s":22,"x":396,"y":0.100},{"s":22,"x":432,"y":0.111},{"s":22,"x":468,"y":0.121},{"s":22,"x":504,"y":0.107},{"s":22,"x":530,"y":0.114},{"s":22,"x":540,"y":0.180},
{"s":23,"x":0,"y":0.220},{"s":23,"x":10,"y":0.132},{"s":23,"x":36,"y":0.110},{"s":23,"x":72,"y":0.097},{"s":23,"x":108,"y":0.086},{"s":23,"x":144,"y":0.099},{"s":23,"x":180,"y":0.089},{"s":23,"x":216,"y":0.079},{"s":23,"x":252,"y":0.088},{"s":23,"x":288,"y":0.099},{"s":23,"x":324,"y":0.110},{"s":23,"x":360,"y":0.100},{"s":23,"x":396,"y":0.088},{"s":23,"x":432,"y":0.078},{"s":23,"x":468,"y":0.087},{"s":23,"x":504,"y":0.100},{"s":23,"x":530,"y":0.104},{"s":23,"x":540,"y":0.166},
{"s":24,"x":0,"y":0.152},{"s":24,"x":10,"y":0.100},{"s":24,"x":36,"y":0.072},{"s":24,"x":72,"y":0.081},{"s":24,"x":108,"y":0.094},{"s":24,"x":144,"y":0.087},{"s":24,"x":180,"y":0.077},{"s":24,"x":216,"y":0.084},{"s":24,"x":252,"y":0.097},{"s":24,"x":288,"y":0.111},{"s":24,"x":324,"y":0.099},{"s":24,"x":360,"y":0.109},{"s":24,"x":396,"y":0.121},{"s":24,"x":432,"y":0.108},{"s":24,"x":468,"y":0.096},{"s":24,"x":504,"y":0.088},{"s":24,"x":530,"y":0.110},{"s":24,"x":540,"y":0.185},
{"s":25,"x":0,"y":0.182},{"s":25,"x":10,"y":0.122},{"s":25,"x":36,"y":0.116},{"s":25,"x":72,"y":0.133},{"s":25,"x":108,"y":0.116},{"s":25,"x":144,"y":0.102},{"s":25,"x":180,"y":0.095},{"s":25,"x":216,"y":0.108},{"s":25,"x":252,"y":0.097},{"s":25,"x":288,"y":0.085},{"s":25,"x":324,"y":0.074},{"s":25,"x":360,"y":0.083},{"s":25,"x":396,"y":0.095},{"s":25,"x":432,"y":0.086},{"s":25,"x":468,"y":0.077},{"s":25,"x":504,"y":0.089},{"s":25,"x":530,"y":0.100},{"s":25,"x":540,"y":0.160},
{"s":26,"x":0,"y":0.162},{"s":26,"x":10,"y":0.107},{"s":26,"x":36,"y":0.085},{"s":26,"x":72,"y":0.076},{"s":26,"x":108,"y":0.089},{"s":26,"x":144,"y":0.104},{"s":26,"x":180,"y":0.097},{"s":26,"x":216,"y":0.087},{"s":26,"x":252,"y":0.076},{"s":26,"x":288,"y":0.090},{"s":26,"x":324,"y":0.103},{"s":26,"x":360,"y":0.117},{"s":26,"x":396,"y":0.104},{"s":26,"x":432,"y":0.092},{"s":26,"x":468,"y":0.100},{"s":26,"x":504,"y":0.109},{"s":26,"x":530,"y":0.112},{"s":26,"x":540,"y":0.175},
{"s":27,"x":0,"y":0.140},{"s":27,"x":10,"y":0.099},{"s":27,"x":36,"y":0.064},{"s":27,"x":72,"y":0.079},{"s":27,"x":108,"y":0.095},{"s":27,"x":144,"y":0.109},{"s":27,"x":180,"y":0.120},{"s":27,"x":216,"y":0.106},{"s":27,"x":252,"y":0.117},{"s":27,"x":288,"y":0.109},{"s":27,"x":324,"y":0.097},{"s":27,"x":360,"y":0.083},{"s":27,"x":396,"y":0.074},{"s":27,"x":432,"y":0.082},{"s":27,"x":468,"y":0.095},{"s":27,"x":504,"y":0.107},{"s":27,"x":530,"y":0.112},{"s":27,"x":540,"y":0.168},
{"s":28,"x":0,"y":0.200},{"s":28,"x":10,"y":0.124},{"s":28,"x":36,"y":0.102},{"s":28,"x":72,"y":0.092},{"s":28,"x":108,"y":0.106},{"s":28,"x":144,"y":0.093},{"s":28,"x":180,"y":0.081},{"s":28,"x":216,"y":0.072},{"s":28,"x":252,"y":0.083},{"s":28,"x":288,"y":0.096},{"s":28,"x":324,"y":0.086},{"s":28,"x":360,"y":0.078},{"s":28,"x":396,"y":0.090},{"s":28,"x":432,"y":0.101},{"s":28,"x":468,"y":0.111},{"s":28,"x":504,"y":0.099},{"s":28,"x":530,"y":0.110},{"s":28,"x":540,"y":0.188},
{"s":29,"x":0,"y":0.158},{"s":29,"x":10,"y":0.112},{"s":29,"x":36,"y":0.101},{"s":29,"x":72,"y":0.115},{"s":29,"x":108,"y":0.104},{"s":29,"x":144,"y":0.092},{"s":29,"x":180,"y":0.100},{"s":29,"x":216,"y":0.089},{"s":29,"x":252,"y":0.077},{"s":29,"x":288,"y":0.085},{"s":29,"x":324,"y":0.097},{"s":29,"x":360,"y":0.088},{"s":29,"x":396,"y":0.076},{"s":29,"x":432,"y":0.067},{"s":29,"x":468,"y":0.079},{"s":29,"x":504,"y":0.073},{"s":29,"x":530,"y":0.090},{"s":29,"x":540,"y":0.138},
{"s":30,"x":0,"y":0.175},{"s":30,"x":10,"y":0.114},{"s":30,"x":36,"y":0.083},{"s":30,"x":72,"y":0.091},{"s":30,"x":108,"y":0.105},{"s":30,"x":144,"y":0.118},{"s":30,"x":180,"y":0.126},{"s":30,"x":216,"y":0.112},{"s":30,"x":252,"y":0.100},{"s":30,"x":288,"y":0.110},{"s":30,"x":324,"y":0.099},{"s":30,"x":360,"y":0.091},{"s":30,"x":396,"y":0.104},{"s":30,"x":432,"y":0.119},{"s":30,"x":468,"y":0.135},{"s":30,"x":504,"y":0.120},{"s":30,"x":530,"y":0.118},{"s":30,"x":540,"y":0.195},
{"s":31,"x":0,"y":0.168},{"s":31,"x":10,"y":0.110},{"s":31,"x":54,"y":0.084},{"s":31,"x":90,"y":0.098},{"s":31,"x":126,"y":0.112},{"s":31,"x":162,"y":0.095},{"s":31,"x":198,"y":0.081},{"s":31,"x":234,"y":0.093},{"s":31,"x":270,"y":0.107},{"s":31,"x":306,"y":0.092},{"s":31,"x":342,"y":0.078},{"s":31,"x":378,"y":0.089},{"s":31,"x":414,"y":0.104},{"s":31,"x":450,"y":0.090},{"s":31,"x":486,"y":0.101},{"s":31,"x":530,"y":0.112},{"s":31,"x":540,"y":0.178},
{"s":32,"x":0,"y":0.192},{"s":32,"x":10,"y":0.123},{"s":32,"x":54,"y":0.111},{"s":32,"x":90,"y":0.092},{"s":32,"x":126,"y":0.079},{"s":32,"x":162,"y":0.094},{"s":32,"x":198,"y":0.109},{"s":32,"x":234,"y":0.120},{"s":32,"x":270,"y":0.102},{"s":32,"x":306,"y":0.087},{"s":32,"x":342,"y":0.099},{"s":32,"x":378,"y":0.114},{"s":32,"x":414,"y":0.098},{"s":32,"x":450,"y":0.084},{"s":32,"x":486,"y":0.095},{"s":32,"x":530,"y":0.098},{"s":32,"x":540,"y":0.150},
{"s":33,"x":0,"y":0.150},{"s":33,"x":10,"y":0.104},{"s":33,"x":54,"y":0.103},{"s":33,"x":90,"y":0.086},{"s":33,"x":126,"y":0.072},{"s":33,"x":162,"y":0.084},{"s":33,"x":198,"y":0.097},{"s":33,"x":234,"y":0.083},{"s":33,"x":270,"y":0.073},{"s":33,"x":306,"y":0.088},{"s":33,"x":342,"y":0.104},{"s":33,"x":378,"y":0.092},{"s":33,"x":414,"y":0.077},{"s":33,"x":450,"y":0.091},{"s":33,"x":486,"y":0.106},{"s":33,"x":530,"y":0.115},{"s":33,"x":540,"y":0.192},
{"s":34,"x":0,"y":0.182},{"s":34,"x":10,"y":0.116},{"s":34,"x":54,"y":0.092},{"s":34,"x":90,"y":0.077},{"s":34,"x":126,"y":0.090},{"s":34,"x":162,"y":0.108},{"s":34,"x":198,"y":0.096},{"s":34,"x":234,"y":0.105},{"s":34,"x":270,"y":0.118},{"s":34,"x":306,"y":0.101},{"s":34,"x":342,"y":0.086},{"s":34,"x":378,"y":0.077},{"s":34,"x":414,"y":0.090},{"s":34,"x":450,"y":0.106},{"s":34,"x":486,"y":0.093},{"s":34,"x":530,"y":0.100},{"s":34,"x":540,"y":0.158},
{"s":35,"x":0,"y":0.136},{"s":35,"x":10,"y":0.097},{"s":35,"x":54,"y":0.095},{"s":35,"x":90,"y":0.109},{"s":35,"x":126,"y":0.094},{"s":35,"x":162,"y":0.080},{"s":35,"x":198,"y":0.092},{"s":35,"x":234,"y":0.106},{"s":35,"x":270,"y":0.090},{"s":35,"x":306,"y":0.098},{"s":35,"x":342,"y":0.112},{"s":35,"x":378,"y":0.101},{"s":35,"x":414,"y":0.088},{"s":35,"x":450,"y":0.078},{"s":35,"x":486,"y":0.084},{"s":35,"x":530,"y":0.094},{"s":35,"x":540,"y":0.142},
{"s":36,"x":0,"y":0.206},{"s":36,"x":10,"y":0.128},{"s":36,"x":54,"y":0.090},{"s":36,"x":90,"y":0.104},{"s":36,"x":126,"y":0.120},{"s":36,"x":162,"y":0.131},{"s":36,"x":198,"y":0.113},{"s":36,"x":234,"y":0.097},{"s":36,"x":270,"y":0.084},{"s":36,"x":306,"y":0.095},{"s":36,"x":342,"y":0.088},{"s":36,"x":378,"y":0.076},{"s":36,"x":414,"y":0.090},{"s":36,"x":450,"y":0.105},{"s":36,"x":486,"y":0.119},{"s":36,"x":530,"y":0.118},{"s":36,"x":540,"y":0.200},
{"s":37,"x":0,"y":0.160},{"s":37,"x":10,"y":0.106},{"s":37,"x":54,"y":0.076},{"s":37,"x":90,"y":0.091},{"s":37,"x":126,"y":0.080},{"s":37,"x":162,"y":0.069},{"s":37,"x":198,"y":0.082},{"s":37,"x":234,"y":0.098},{"s":37,"x":270,"y":0.111},{"s":37,"x":306,"y":0.097},{"s":37,"x":342,"y":0.082},{"s":37,"x":378,"y":0.094},{"s":37,"x":414,"y":0.109},{"s":37,"x":450,"y":0.097},{"s":37,"x":486,"y":0.084},{"s":37,"x":530,"y":0.104},{"s":37,"x":540,"y":0.168},
{"s":38,"x":0,"y":0.146},{"s":38,"x":10,"y":0.105},{"s":38,"x":54,"y":0.113},{"s":38,"x":90,"y":0.099},{"s":38,"x":126,"y":0.108},{"s":38,"x":162,"y":0.094},{"s":38,"x":198,"y":0.079},{"s":38,"x":234,"y":0.070},{"s":38,"x":270,"y":0.083},{"s":38,"x":306,"y":0.106},{"s":38,"x":342,"y":0.093},{"s":38,"x":378,"y":0.105},{"s":38,"x":414,"y":0.117},{"s":38,"x":450,"y":0.102},{"s":38,"x":486,"y":0.113},{"s":38,"x":530,"y":0.116},{"s":38,"x":540,"y":0.185},
{"s":39,"x":0,"y":0.186},{"s":39,"x":10,"y":0.119},{"s":39,"x":54,"y":0.086},{"s":39,"x":90,"y":0.100},{"s":39,"x":126,"y":0.087},{"s":39,"x":162,"y":0.099},{"s":39,"x":198,"y":0.114},{"s":39,"x":234,"y":0.102},{"s":39,"x":270,"y":0.089},{"s":39,"x":306,"y":0.079},{"s":39,"x":342,"y":0.068},{"s":39,"x":378,"y":0.081},{"s":39,"x":414,"y":0.096},{"s":39,"x":450,"y":0.111},{"s":39,"x":486,"y":0.100},{"s":39,"x":530,"y":0.106},{"s":39,"x":540,"y":0.160},
{"s":40,"x":0,"y":0.172},{"s":40,"x":10,"y":0.113},{"s":40,"x":54,"y":0.100},{"s":40,"x":90,"y":0.086},{"s":40,"x":126,"y":0.077},{"s":40,"x":162,"y":0.088},{"s":40,"x":198,"y":0.073},{"s":40,"x":234,"y":0.087},{"s":40,"x":270,"y":0.101},{"s":40,"x":306,"y":0.115},{"s":40,"x":342,"y":0.129},{"s":40,"x":378,"y":0.111},{"s":40,"x":414,"y":0.094},{"s":40,"x":450,"y":0.084},{"s":40,"x":486,"y":0.076},{"s":40,"x":530,"y":0.090},{"s":40,"x":540,"y":0.136},
{"s":41,"x":0,"y":0.128},{"s":41,"x":10,"y":0.094},{"s":41,"x":54,"y":0.090},{"s":41,"x":90,"y":0.105},{"s":41,"x":126,"y":0.118},{"s":41,"x":162,"y":0.105},{"s":41,"x":198,"y":0.092},{"s":41,"x":234,"y":0.111},{"s":41,"x":270,"y":0.098},{"s":41,"x":306,"y":0.084},{"s":41,"x":342,"y":0.097},{"s":41,"x":378,"y":0.086},{"s":41,"x":414,"y":0.074},{"s":41,"x":450,"y":0.087},{"s":41,"x":486,"y":0.102},{"s":41,"x":530,"y":0.120},{"s":41,"x":540,"y":0.205},
{"s":42,"x":0,"y":0.212},{"s":42,"x":10,"y":0.130},{"s":42,"x":54,"y":0.098},{"s":42,"x":90,"y":0.085},{"s":42,"x":126,"y":0.098},{"s":42,"x":162,"y":0.111},{"s":42,"x":198,"y":0.099},{"s":42,"x":234,"y":0.084},{"s":42,"x":270,"y":0.096},{"s":42,"x":306,"y":0.108},{"s":42,"x":342,"y":0.098},{"s":42,"x":378,"y":0.111},{"s":42,"x":414,"y":0.125},{"s":42,"x":450,"y":0.108},{"s":42,"x":486,"y":0.094},{"s":42,"x":530,"y":0.109},{"s":42,"x":540,"y":0.172},
{"s":43,"x":0,"y":0.164},{"s":43,"x":10,"y":0.108},{"s":43,"x":54,"y":0.067},{"s":43,"x":90,"y":0.079},{"s":43,"x":126,"y":0.094},{"s":43,"x":162,"y":0.084},{"s":43,"x":198,"y":0.098},{"s":43,"x":234,"y":0.112},{"s":43,"x":270,"y":0.124},{"s":43,"x":306,"y":0.107},{"s":43,"x":342,"y":0.094},{"s":43,"x":378,"y":0.082},{"s":43,"x":414,"y":0.073},{"s":43,"x":450,"y":0.080},{"s":43,"x":486,"y":0.092},{"s":43,"x":530,"y":0.096},{"s":43,"x":540,"y":0.150},
{"s":44,"x":0,"y":0.196},{"s":44,"x":10,"y":0.124},{"s":44,"x":54,"y":0.106},{"s":44,"x":90,"y":0.093},{"s":44,"x":126,"y":0.106},{"s":44,"x":162,"y":0.119},{"s":44,"x":198,"y":0.106},{"s":44,"x":234,"y":0.091},{"s":44,"x":270,"y":0.079},{"s":44,"x":306,"y":0.093},{"s":44,"x":342,"y":0.103},{"s":44,"x":378,"y":0.117},{"s":44,"x":414,"y":0.104},{"s":44,"x":450,"y":0.093},{"s":44,"x":486,"y":0.082},{"s":44,"x":530,"y":0.098},{"s":44,"x":540,"y":0.164}
],
"ma": [
{"x":0,"y":0.1145},{"x":22,"y":0.1127},{"x":40,"y":0.1130},{"x":59,"y":0.1142},{"x":80,"y":0.1138},{"x":96,"y":0.1132},{"x":112,"y":0.1150},{"x":130,"y":0.1175},{"x":148,"y":0.1160},{"x":162,"y":0.1142},{"x":185,"y":0.1137},{"x":213,"y":0.1121},{"x":240,"y":0.1130},{"x":264,"y":0.1146},{"x":298,"y":0.1147},{"x":320,"y":0.1140},{"x":334,"y":0.1124},{"x":362,"y":0.1136},{"x":404,"y":0.1142},{"x":435,"y":0.1145},{"x":456,"y":0.1162},{"x":479,"y":0.1158},{"x":507,"y":0.1162},{"x":525,"y":0.1150},{"x":541,"y":0.1134}
],
"mb": [
{"x":0,"y":0.158},{"x":5,"y":0.125},{"x":10,"y":0.108},{"x":16,"y":0.099},{"x":26,"y":0.0945},{"x":40,"y":0.0935},{"x":70,"y":0.0935},{"x":90,"y":0.0940},{"x":119,"y":0.0937},{"x":142,"y":0.0972},{"x":165,"y":0.0955},{"x":190,"y":0.0940},{"x":217,"y":0.0927},{"x":240,"y":0.0930},{"x":265,"y":0.0945},{"x":300,"y":0.0947},{"x":330,"y":0.0940},{"x":355,"y":0.0930},{"x":390,"y":0.0940},{"x":430,"y":0.0942},{"x":460,"y":0.0955},{"x":500,"y":0.0960},{"x":514,"y":0.0950},{"x":522,"y":0.0945},{"x":530,"y":0.1000},{"x":536,"y":0.1200},{"x":542,"y":0.1600}
]
},
"hconcat": [
{
  "width": 409, "height": 301,
  "title": {"text": "(a) with padding (as used in the experiments)", "orient": "bottom", "frame": "group", "anchor": "middle", "dx": -46.5, "font": "DejaVu Serif", "fontSize": 21, "fontWeight": "normal", "color": "#000", "offset": 24},
  "layer": [
    {"data": {"name": "a"},
     "mark": {"type": "line", "interpolate": "monotone", "clip": true, "color": "#858585", "strokeWidth": 1, "opacity": 0.72},
     "encoding": {
       "x": {"field": "x", "type": "quantitative", "scale": {"domain": [-15.4, 556.7], "nice": false, "zero": false},
             "axis": {"values": [0, 91, 182, 274, 366, 456], "title": null, "labelPadding": 11, "labelAngle": 0, "labelOverlap": false, "labelFlush": false,
                      "labelExpr": "datum.value == 0 || datum.value == 366 ? 'Jan' : (datum.value == 91 || datum.value == 456 ? 'Apr' : (datum.value == 182 ? 'Jul' : 'Oct'))"}},
       "y": {"field": "y", "type": "quantitative", "scale": {"domain": [0.06, 0.2], "nice": false, "zero": false},
             "axis": {"values": [0.075, 0.1, 0.125, 0.15, 0.175], "format": ".3f", "labelPadding": 12, "title": "β", "titleFont": "DejaVu Serif", "titleFontStyle": "italic", "titleFontWeight": "normal", "titleFontSize": 23, "titleColor": "#000", "titleX": -79, "titleY": 152, "titleAngle": -90, "titleAlign": "center", "titleBaseline": "middle"}},
       "detail": {"field": "s"}
     }},
    {"data": {"name": "ma"},
     "mark": {"type": "line", "interpolate": "monotone", "color": "#000", "strokeWidth": 2},
     "encoding": {"x": {"field": "x", "type": "quantitative"}, "y": {"field": "y", "type": "quantitative"}}}
  ]
},
{
  "width": 401, "height": 301,
  "title": {"text": "(b) without padding", "orient": "bottom", "frame": "group", "anchor": "middle", "dx": -40, "font": "DejaVu Serif", "fontSize": 21, "fontWeight": "normal", "color": "#000", "offset": 24},
  "layer": [
    {"data": {"name": "b"},
     "mark": {"type": "line", "interpolate": "monotone", "clip": true, "color": "#858585", "strokeWidth": 1, "opacity": 0.72},
     "encoding": {
       "x": {"field": "x", "type": "quantitative", "scale": {"domain": [-15.4, 547.5], "nice": false, "zero": false},
             "axis": {"values": [0, 91, 182, 274, 366, 456], "title": null, "labelPadding": 11, "labelAngle": 0, "labelOverlap": false, "labelFlush": false,
                      "labelExpr": "datum.value == 0 || datum.value == 366 ? 'Jan' : (datum.value == 91 || datum.value == 456 ? 'Apr' : (datum.value == 182 ? 'Jul' : 'Oct'))"}},
       "y": {"field": "y", "type": "quantitative", "scale": {"domain": [0.06, 0.2], "nice": false, "zero": false},
             "axis": {"values": [0.075, 0.1, 0.125, 0.15, 0.175], "format": ".3f", "labelPadding": 12, "title": "β", "titleFont": "DejaVu Serif", "titleFontStyle": "italic", "titleFontWeight": "normal", "titleFontSize": 23, "titleColor": "#000", "titleX": -79, "titleY": 152, "titleAngle": -90, "titleAlign": "center", "titleBaseline": "middle"}},
       "detail": {"field": "s"}
     }},
    {"data": {"name": "mb"},
     "mark": {"type": "line", "interpolate": "monotone", "clip": true, "color": "#000", "strokeWidth": 2},
     "encoding": {"x": {"field": "x", "type": "quantitative"}, "y": {"field": "y", "type": "quantitative"}}}
  ]
}
]
}
